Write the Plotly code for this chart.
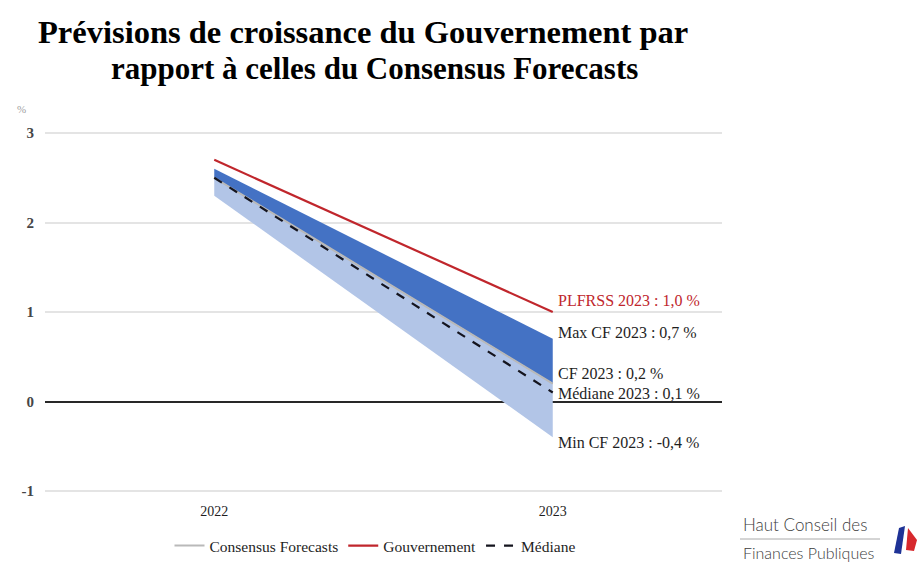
import plotly.graph_objects as go

years = ["2022", "2023"]
cf_min = [2.3, -0.4]
cf_mean = [2.5, 0.2]
cf_max = [2.6, 0.7]
gouvernement = [2.7, 1.0]
mediane = [2.5, 0.1]
y_ticks = [-1, 0, 1, 2, 3]

DARK_BLUE = "rgb(68,114,196)"
LIGHT_BLUE = "rgb(178,197,231)"
RED = "rgb(192,38,44)"
SERIF = "Liberation Serif"
W, H = 921, 563
L, R, T, B = 45, 722, 110, 497

fig = go.Figure()
fig.add_trace(go.Scatter(x=years, y=cf_min, mode="lines", line=dict(width=0, color=LIGHT_BLUE),
                         showlegend=False, hoverinfo="skip"))
fig.add_trace(go.Scatter(x=years, y=cf_mean, mode="lines", fill="tonexty", fillcolor=LIGHT_BLUE,
                         line=dict(width=1, color="rgb(175,175,175)"), name="Consensus Forecasts",
                         showlegend=False))
fig.add_trace(go.Scatter(x=years, y=cf_max, mode="lines", fill="tonexty", fillcolor=DARK_BLUE,
                         line=dict(width=0, color=DARK_BLUE), showlegend=False, hoverinfo="skip"))
fig.add_trace(go.Scatter(x=years, y=cf_mean, mode="lines", line=dict(width=2, color="rgb(185,185,185)"),
                         name="Consensus Forecasts", hoverinfo="skip", showlegend=True))
fig.add_trace(go.Scatter(x=years, y=gouvernement, mode="lines", line=dict(width=2.2, color=RED),
                         name="Gouvernement"))
fig.add_trace(go.Scatter(x=years, y=mediane, mode="lines", line=dict(width=2.2, color="rgb(20,20,30)", dash="dash"),
                         name="Médiane"))

i23 = years.index("2023")
labels = [
    ("PLFRSS 2023 : 1,0 %", gouvernement[i23], 12, RED),
    ("Max CF 2023 : 0,7 %", cf_max[i23], 6, "rgb(30,30,30)"),
    ("CF 2023 : 0,2 %", cf_mean[i23], 10, "rgb(30,30,30)"),
    ("Médiane 2023 : 0,1 %", mediane[i23], -1, "rgb(30,30,30)"),
    ("Min CF 2023 : -0,4 %", cf_min[i23], -5, "rgb(30,30,30)"),
]
for txt, val, ys, col in labels:
    fig.add_annotation(x=i23, y=val, xref="x", yref="y", text=txt, showarrow=False,
                       xanchor="left", yanchor="middle", xshift=3, yshift=ys,
                       font=dict(family=SERIF, size=16, color=col))


def px(xp):
    return (xp - L) / (R - L)


def py(yp):
    return (B - yp) / (B - T)


# title as two lines
fig.add_annotation(x=px(363), y=py(32), xref="paper", yref="paper", showarrow=False,
                   text="Prévisions de croissance du Gouvernement par", xanchor="center", yanchor="middle",
                   font=dict(family=SERIF, size=32.5, color="black", weight="bold"))
fig.add_annotation(x=px(374), y=py(68), xref="paper", yref="paper", showarrow=False,
                   text="rapport à celles du Consensus Forecasts", xanchor="center", yanchor="middle",
                   font=dict(family=SERIF, size=31, color="black", weight="bold"))

# % label
fig.add_annotation(x=px(15), y=py(101), xref="paper", yref="paper", text="%", showarrow=False,
                   font=dict(family=SERIF, size=11, color="rgb(160,160,160)"))

# logo text
fig.add_annotation(x=px(741), y=py(524), xref="paper", yref="paper",
                   text="Haut Conseil des", showarrow=False, xanchor="left", yanchor="middle",
                   font=dict(family="Lato", size=17, color="rgb(60,60,60)", weight=300))
fig.add_annotation(x=px(741), y=py(552), xref="paper", yref="paper",
                   text="Finances Publiques", showarrow=False, xanchor="left", yanchor="middle",
                   font=dict(family="Lato", size=16, color="rgb(60,60,60)", weight=300))

fig.add_shape(type="line", xref="paper", yref="paper", x0=px(740), x1=px(880), y0=py(539), y1=py(539),
              line=dict(color="rgb(170,170,170)", width=1))
fig.add_shape(type="path", xref="paper", yref="paper",
              path=f"M {px(894)} {py(553)} L {px(899)} {py(528)} L {px(905)} {py(526)} L {px(901)} {py(554)} Z",
              fillcolor="rgb(30,50,150)", line=dict(width=0))
fig.add_shape(type="path", xref="paper", yref="paper",
              path=f"M {px(906)} {py(550)} L {px(908)} {py(528)} L {px(917)} {py(540)} L {px(914)} {py(551)} Z",
              fillcolor="rgb(215,40,45)", line=dict(width=0))

fig.update_layout(
    width=W, height=H,
    margin=dict(l=L, r=W - R, t=T, b=H - B, autoexpand=False),
    paper_bgcolor="white", plot_bgcolor="white",
    showlegend=True,
    legend=dict(orientation="h", x=375 / W, xanchor="center", xref="container",
                y=1 - 546 / H, yanchor="middle", yref="container",
                font=dict(family=SERIF, size=15.5, color="rgb(30,30,30)"),
                traceorder="normal", bgcolor="rgba(0,0,0,0)"),
    xaxis=dict(type="category", range=[-0.5, 1.5], showgrid=False, zeroline=False, showline=False, ticks="",
               tickfont=dict(family=SERIF, size=14, color="rgb(30,30,30)"), ticklabelstandoff=4),
    yaxis=dict(range=[-1 - (B - 491) / 89.5, 3 + (133 - T) / 89.5], tickvals=y_ticks,
               ticktext=[str(v) for v in y_ticks],
               showgrid=True, gridcolor="rgb(228,228,228)", gridwidth=1.5,
               zeroline=True, zerolinecolor="rgb(40,40,40)", zerolinewidth=1.5,
               tickfont=dict(family=SERIF, size=15, color="rgb(70,70,70)", weight="bold"),
               ticklabelstandoff=10),
)
fig.write_html("out.html")
